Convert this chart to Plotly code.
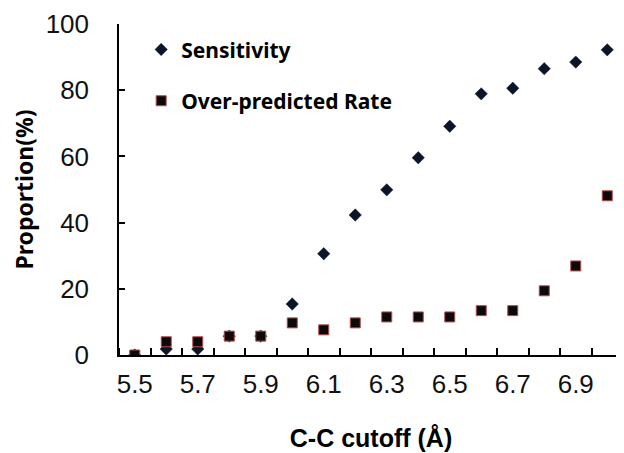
import plotly.graph_objects as go

cutoffs = [5.5, 5.6, 5.7, 5.8, 5.9, 6.0, 6.1, 6.2, 6.3, 6.4, 6.5, 6.6, 6.7, 6.8, 6.9, 7.0]
sensitivity = [0, 1.8, 1.8, 5.7, 5.7, 15.4, 30.6, 42.3, 49.9, 59.6, 69.1, 78.9, 80.6, 86.5, 88.5, 92.2]
over_rate = [0, 4.0, 4.0, 5.7, 5.7, 9.7, 7.6, 9.7, 11.5, 11.5, 11.5, 13.4, 13.4, 19.4, 26.9, 48.1]
tick_labels = cutoffs[::2]
y_ticks = [0, 20, 40, 60, 80, 100]

step = 0.1
boundaries = [round(c - step / 2, 3) for c in cutoffs] + [round(cutoffs[-1] + step / 2, 3)]

fig = go.Figure()
fig.add_trace(go.Scatter(
    x=cutoffs, y=sensitivity, mode="markers", name="Sensitivity",
    legendgroup="s",
    marker=dict(symbol="diamond", size=9.5, color="#0b1528",
                line=dict(width=0.5, color="#0b1528")),
))
fig.add_trace(go.Scatter(
    x=cutoffs, y=over_rate, mode="markers", name="Over-predicted Rate",
    legendgroup="o",
    marker=dict(symbol="square", size=10, color="#0a0a0a",
                line=dict(width=1, color="#b84a4a")),
))

fig.update_layout(
    width=624, height=453,
    margin=dict(l=111, r=9, t=16, b=106, autoexpand=False),
    plot_bgcolor="white", paper_bgcolor="white",
    showlegend=True,
    legend=dict(
        x=0.044, xanchor="left", y=0.984, yanchor="top",
        font=dict(family="Noto Sans", size=21, color="black", weight="bold"),
        tracegroupgap=21, bgcolor="rgba(0,0,0,0)",
    ),
    xaxis=dict(
        range=[boundaries[0], boundaries[-1]], automargin=False,
        tickmode="array", tickvals=tick_labels,
        ticktext=[f"{v:.1f}" for v in tick_labels],
        ticks="", showgrid=False, zeroline=False,
        showline=True, linecolor="black", linewidth=1.5,
        tickfont=dict(family="Liberation Sans", size=26, color="#111"),
        ticklabelstandoff=5,
        minor=dict(tickmode="array", tickvals=boundaries, ticks="inside",
                   ticklen=7, tickwidth=1.5, tickcolor="black", showgrid=False),
        title=dict(text="C-C cutoff (Å)",
                   font=dict(family="Liberation Sans", size=25, color="black", weight="bold"),
                   standoff=32),
    ),
    yaxis=dict(
        range=[0, 100], tickmode="array", tickvals=y_ticks, automargin=False,
        ticks="inside", ticklen=6, tickwidth=1.5, tickcolor="black",
        showgrid=False, zeroline=False,
        showline=True, linecolor="black", linewidth=1.5,
        tickfont=dict(family="Liberation Sans", size=26, color="#111"),
        ticklabelstandoff=23,
        title=dict(text="Proportion(%)",
                   font=dict(family="Noto Sans", size=23, color="black", weight="bold"),
                   standoff=8),
    ),
)

fig.write_html("out.html")
